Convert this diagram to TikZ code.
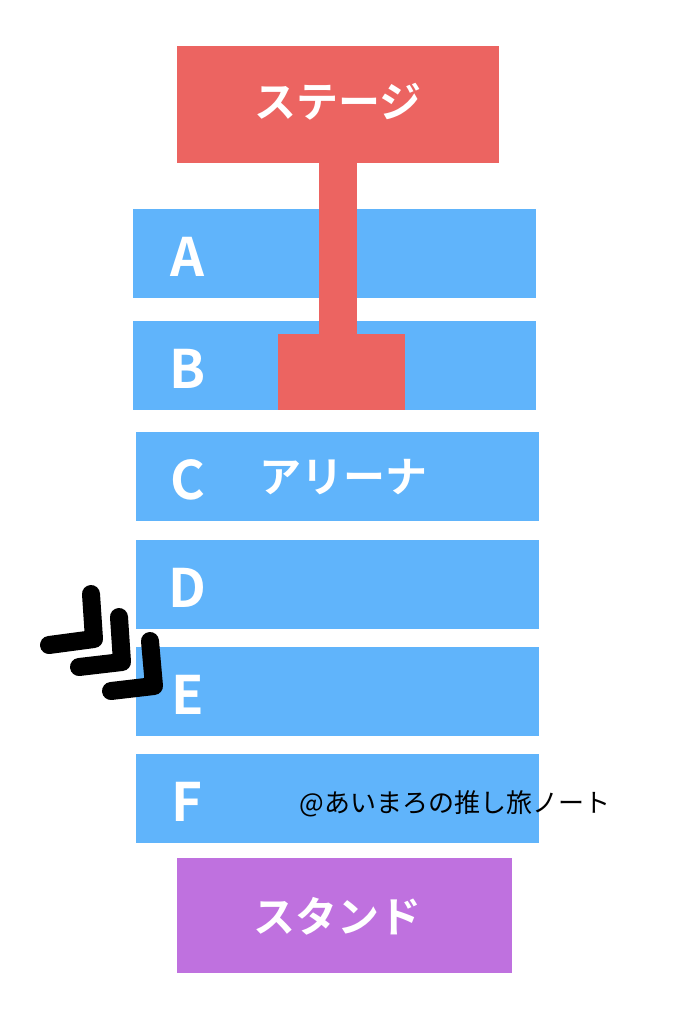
\documentclass[tikz,border=0pt]{standalone}
\usepackage{fontspec}
\usetikzlibrary{positioning}
\newfontfamily\jpfont{Noto Sans CJK JP}[BoldFont={Noto Sans CJK JP Bold}]
\definecolor{stagered}{HTML}{EC6461}
\definecolor{seatblue}{HTML}{60B4FB}
\definecolor{standpurple}{HTML}{BF71DF}

\begin{document}
\begin{tikzpicture}[x=1pt, y=-1pt, node distance=11pt,
    row/.style={rectangle, fill=seatblue, minimum width=201.5pt, minimum height=44.5pt, inner sep=0pt, outer sep=0pt},
    letter/.style={text=white, font=\jpfont\bfseries\fontsize{26.5pt}{28pt}\selectfont, inner sep=0pt},
    label/.style={text=white, font=\jpfont\bfseries\fontsize{21pt}{23pt}\selectfont, inner sep=0pt},
    chevron/.style={line width=9pt, line cap=round, line join=round}]
    \useasboundingbox (0,0) rectangle (349,512);

    % Seat rows of the arena
    \node[row] (rowA) at (167.25,126.75) {};
    \node[row, below=11.5pt of rowA] (rowB) {};
    \node[row, below=11pt of rowB, xshift=1.5pt] (rowC) {};
    \node[row, below=9.5pt of rowC] (rowD) {};
    \node[row, below=9pt of rowD] (rowE) {};
    \node[row, below=9pt of rowE] (rowF) {};

    % Stage with its runway
    \node[rectangle, fill=stagered, minimum width=161pt, minimum height=58.5pt, inner sep=0pt, outer sep=0pt] (stage) at (169,52.25) {};
    \node[rectangle, fill=stagered, minimum width=63.5pt, minimum height=38pt, inner sep=0pt, outer sep=0pt] (block) at (170.75,186) {};
    \draw[stagered, line width=19pt] (stage.south) -- (stage.south |- block.north);
    \node[label, yshift=1.5pt] (stagetext) at (stage) {ステージ};

    % Stand at the back
    \node[rectangle, fill=standpurple, minimum width=167.5pt, minimum height=57.5pt, inner sep=0pt] (stand) at (172.25,457.75) {};
    \node[label, xshift=-3.5pt, yshift=-0.5pt] (standtext) at (stand) {スタンド};

    % Row letters
    \node[letter, yshift=-1.75pt] (lA) at (93.75,0 |- rowA) {A};
    \node[letter, yshift=-1.75pt] (lB) at (93.75,0 |- rowB) {B};
    \node[letter, yshift=-1.75pt] (lC) at (93.75,0 |- rowC) {C};
    \node[letter, yshift=-1.75pt] (lD) at (93.75,0 |- rowD) {D};
    \node[letter, yshift=-1.75pt] (lE) at (93.75,0 |- rowE) {E};
    \node[letter, yshift=-1.75pt] (lF) at (93.75,0 |- rowF) {F};
    \node[label, yshift=-0.5pt] (arena) at (171.5,0 |- rowC) {アリーナ};

    % Watermark
    \node[font=\jpfont\fontsize{13pt}{15pt}\selectfont, inner sep=0pt] (mark) at (227.5,402) {@あいまろの推し旅ノート};

    % Marker pointing at row E
    \draw[chevron] (45.5,297) -- (47,319.5) -- (24.5,322.5);
    \draw[chevron] (59.5,308.5) -- (61,331) -- (39.5,333.5);
    \draw[chevron] (75,320.5) -- (77,343) -- (55.5,345.5);
\end{tikzpicture}
\end{document}
